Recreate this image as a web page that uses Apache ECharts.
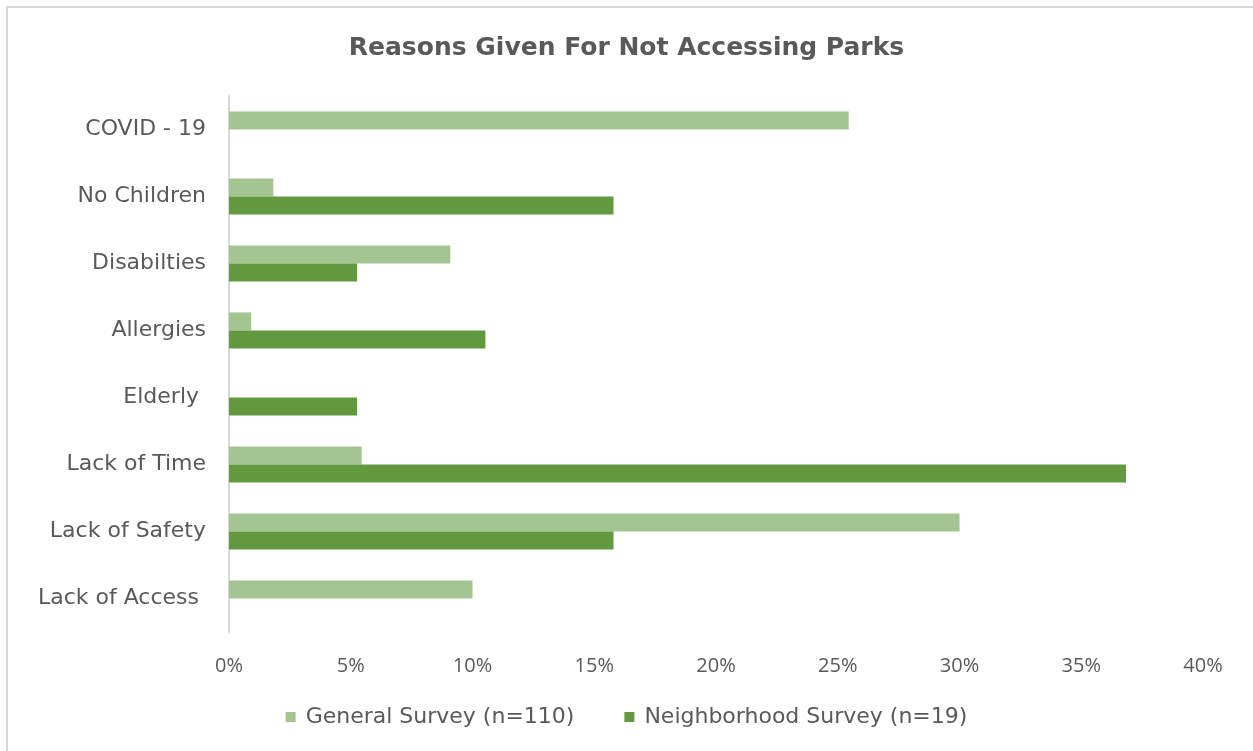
<!DOCTYPE html>
<html>
<head>
<meta charset="utf-8">
<script src="https://cdn.jsdelivr.net/npm/echarts@6/dist/echarts.min.js"></script>
<style>
html,body{margin:0;padding:0;background:#fff;}
#chart{width:1253px;height:751px;}
</style>
</head>
<body>
<div id="chart"></div>
<script>
const titleText = 'Reasons Given For Not Accessing Parks';
const categories = ['COVID - 19', 'No Children', 'Disabilties', 'Allergies', 'Elderly ', 'Lack of Time', 'Lack of Safety', 'Lack of Access '];
const seriesNames = ['General Survey (n=110)', 'Neighborhood Survey (n=19)'];
const generalSurvey = [25.45, 1.82, 9.09, 0.91, 0, 5.45, 30.0, 10.0];
const neighborhoodSurvey = [0, 15.79, 5.26, 10.53, 5.26, 36.84, 15.79, 0];
const xTicks = [0, 5, 10, 15, 20, 25, 30, 35, 40];

const FONT = '"DejaVu Sans", sans-serif';
const TXT = '#595959';
const chart = echarts.init(document.getElementById('chart'), null, {renderer: 'canvas'});
chart.setOption({
  animation: false,
  backgroundColor: '#ffffff',
  graphic: [{
    type: 'rect', silent: true, z: -1,
    shape: {x: 7, y: 7, width: 1400, height: 900},
    style: {fill: 'none', stroke: '#d9d9d9', lineWidth: 2}
  }],
  title: {
    text: titleText, left: 'center', top: 31,
    textStyle: {fontFamily: FONT, fontSize: 25, fontWeight: 'bold', color: TXT}
  },
  legend: {
    data: seriesNames, bottom: 18, left: 'center',
    itemWidth: 10, itemHeight: 10, itemGap: 50, icon: 'rect',
    textStyle: {fontFamily: FONT, fontSize: 22, color: TXT, padding: [0, 0, 0, 5]}
  },
  grid: {left: 229, right: 50, top: 96, bottom: 119, containLabel: false},
  xAxis: {
    type: 'value', min: xTicks[0], max: xTicks[xTicks.length - 1], interval: 5,
    axisLine: {show: false}, axisTick: {show: false}, splitLine: {show: false},
    axisLabel: {formatter: v => v + '%', fontFamily: '"Open Sans", sans-serif', fontSize: 20, color: TXT, margin: 24}
  },
  yAxis: {
    type: 'category', data: categories, inverse: true,
    axisLine: {show: true, lineStyle: {color: '#d9d9d9', width: 2}},
    axisTick: {show: false},
    axisLabel: {fontFamily: FONT, fontSize: 22, color: TXT, margin: 23}
  },
  series: [
    {name: seriesNames[0], type: 'bar', data: generalSurvey, barGap: '0%', barCategoryGap: '46%',
      itemStyle: {color: '#a3c592'}},
    {name: seriesNames[1], type: 'bar', data: neighborhoodSurvey, barGap: '0%', barCategoryGap: '46%',
      itemStyle: {color: '#62993e'}}
  ]
});
</script>
</body>
</html>
